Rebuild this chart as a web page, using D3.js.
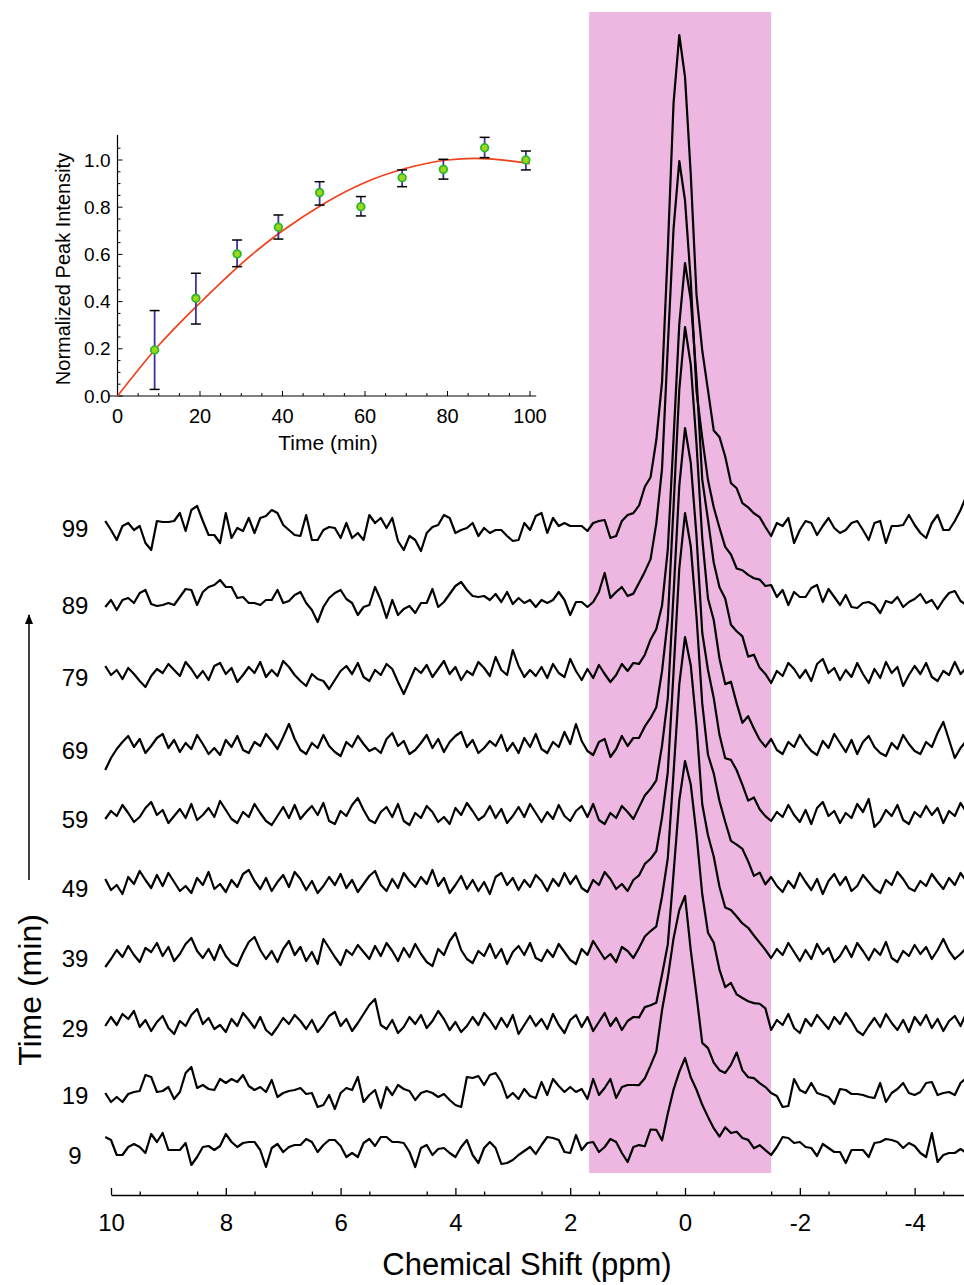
<!DOCTYPE html>
<html>
<head>
<meta charset="utf-8">
<script src="https://cdn.jsdelivr.net/npm/d3@7"></script>
<style>
  body { margin: 0; background: #fff; }
  svg { display: block; }
  text { font-family: "Liberation Sans", Arial, Helvetica, sans-serif; fill: #000; }
</style>
</head>
<body>
<svg id="chart"></svg>
<script>
// ---- spectra data ----
const times = [9, 19, 29, 39, 49, 59, 69, 79, 89, 99];
// vertical stacking offset of each spectrum, intensity units
const stackOffsets = [0, 60, 127, 197, 267, 336, 405, 478, 550, 627];
// height of the main peak above its own baseline
const peakHeights = [92, 194, 262, 316, 370, 386, 418, 409, 439, 488];
// chemical shift of the peak top (ppm)
const peakShifts = [0, 0, 0, 0, 0, 0, 0, 0, 0.1, 0.1];
// normalised peak shape, one value per 0.1 ppm step away from the top
const profileLeft = [0.85, 0.57, 0.30, 0.17, 0.10, 0.06, 0.03, 0.01];
const profileRight = [0.91, 0.72, 0.48, 0.36, 0.28, 0.20, 0.16, 0.13, 0.09, 0.065, 0.045, 0.03, 0.02, 0.01];
// sampling grid of the spectra
const shiftStart = 10.1, shiftStep = 0.1;

// baseline noise, one value per grid point (10.1 ppm ... -4.9 ppm)
const noise9 = [13,10,-5,-5,3,6,3,-3,16,8, 17,0,0,0,7,-15,-7,3,4,0, 4,16,8,3,7,8,8,0,-17,2, 6,-2,3,5,5,11,8,-2,5,10, 10,4,-7,-3,-7,7,11,4,13,13, 8,8,7,-2,-17,2,5,-5,1,2, -3,-7,3,10,-5,-13,2,8,2,-14, -13,-10,-5,-1,3,-4,
  5,13,12,10,-2,-3,15,0,7,8,-2,3,11,8,-3,-12,3,
  4,1,15,11,-6,9,8,0,0,-11,-6,1,0,-4,-5,8,5,10,6,6,-1,3,-1,
  -5,3,13,12,7,8,3,2,-6,6,2,-2,-2,-13,0,0,0,-7,7,8,11,10,8,2,7,4,-3,-7,17,-12,-5,-3,-3,1,-3];
const noise19 = [-3,-12,-7,-12,-4,-2,-1,15,13,-2, -1,3,-9,-2,17,23,2,5,1,0, 11,7,11,8,15,4,0,3,-2,10, -7,-3,-1,0,2,-4,-3,-17,-15,-5, -19,-3,2,0,13,-12,-5,0,-18,3, -5,5,1,-1,-10,-3,-1,-3,-7,-4, -10,-15,-17,13,12,14,5,15,17,8, -8,-3,-9,1,-6,-8,
  8,-5,11,4,-2,3,-2,1,-9,11,-5,2,11,-8,3,5,5,
  3,6,13,19,47,54,41,15,0,-37,-45,-46,-28,-27,-19,-14,0,20,7,4,6,3,1,
  -3,-6,-17,-16,11,0,-3,7,-3,-5,-7,-14,1,0,-4,-4,-5,-7,-8,7,-12,-3,1,7,-3,-5,-2,7,8,-5,-3,-2,-5,7,12];
const noise29 = [-3,6,-2,9,4,12,-4,3,-8,1, 7,-5,-11,2,-3,8,14,-1,5,-6, -2,-9,4,-3,10,3,-5,6,-7,-12, -4,5,-1,8,2,-6,3,-9,-2,7, 11,-3,4,-8,0,9,18,24,-2,-6, 3,-10,-4,6,-1,8,-5,2,12,4, -7,1,-9,-3,6,-2,10,3,-6,5, -4,8,-11,-2,7,-3,
  4,-6,9,-2,-10,3,8,-4,6,-8,1,10,-3,5,-7,2,6,
  3,8,2,-6,4,0,0,0,0,0,0,3,-4,7,1,-6,6,5,8,10,12,14,12,
  -7,3,-2,9,-5,-10,4,-3,8,1,-6,6,-1,10,2,-8,-12,-3,5,-4, 9,0,-7,3,-9,6,-2,8,-5,4, -8,2,7,-3,10];
const noise39 = [-14,-6,3,-4,7,-2,-9,5,1,10, -3,6,-8,-1,9,15,2,-5,4,-7, 8,-3,-10,-13,0,11,16,3,-6,2, -9,4,12,-2,6,-8,1,-11,14,5, -4,-12,3,-2,8,1,-6,7,-3,10, 2,-8,5,-4,9,-1,-9,-13,4,-2, 12,20,3,-6,-10,2,-3,9,-5,4, -11,1,7,-2,10,-5,
  -8,3,-4,9,1,-7,-11,4,-2,12,3,-6,-1,-9,6,2,-5,
  2,7,3,-5,3,0,0,0,0,0,0,-3,4,8,3,-5,2,8,9,11,8,4,0,
  -5,4,-2,10,1,-8,3,-6,9,-1,5,-9,-3,7,-4,10,2,-7,4,-2, 11,-5,-9,2,-3,8,-1,6,-6,3, 14,2,-6,-1,5];
const noise49 = [4,-7,-2,-11,6,-1,12,3,-5,8, -3,10,1,-8,-3,-10,5,-2,11,-6, -1,-9,3,-4,9,13,2,-6,5,-8, 1,8,-4,11,4,-7,2,-10,-3,6, -2,9,-5,3,-9,-1,7,12,-2,-8, 4,-5,10,2,-4,6,-1,13,-3,5, -10,-2,7,-6,3,-8,1,-11,6,10, -2,5,-7,3,-4,8,
  2,-8,4,-3,10,-1,7,-5,-9,3,-2,11,4,-6,-1,-8,3,
  4,8,2,-5,3,0,0,0,0,0,0,2,-5,6,8,2,-6,5,10,5,-4,3,-5,
  6,-3,-9,2,-5,10,1,-7,4,-11,2,9,-2,6,-8,-3,8,1,-6,-10, 3,-2,11,4,-5,-8,2,-3,9,1, -6,5,-2,10,2];
const noise59 = [-5,3,-2,9,1,-8,-3,6,12,-1, 4,-9,-2,5,-4,10,-6,-1,6,-3, 13,4,-5,-9,2,-3,10,1,-7,-11, -2,7,-4,9,-5,2,8,-1,11,-7, -10,3,-2,9,16,4,-6,-9,2,7, -3,10,-7,-11,1,-4,8,2,-8,-3, -10,6,-1,11,3,-6,-2,8,-4,5, -9,-2,7,-3,10,1,
  -8,2,-5,9,-2,-7,3,8,-3,10,-6,-10,1,-4,8,2,-5,
  3,7,2,-5,3,0,0,0,0,0,0,-4,5,8,2,-6,4,9,4,-4,5,-3,-6,
  -7,2,-3,9,-1,-8,4,-10,6,12,-2,3,-9,1,-4,10,2,15,-13,-7, 4,-2,9,-6,-10,2,-3,8,-1,6, -9,3,-2,11,2];
const noise69 = [-25,-13,-4,3,9,-2,6,-8,-1,7, 11,-3,5,-7,2,-4,10,1,-9,-3, -10,5,-2,9,-5,-8,3,-1,11,4, -4,8,21,6,-5,-9,2,-3,10,-1, -7,-11,3,-2,9,1,-6,-3,-8,6, 12,-1,4,-9,-5,2,10,-3,6,-7, 3,9,13,-2,5,-8,-3,4,-1,10, -6,2,-8,7,-2,11,
  -4,-8,3,-2,13,1,21,4,-6,-10,3,6,-12,-4,9,-1,7,
  3,6,2,-4,3,0,0,0,0,0,0,6,-4,8,3,-6,9,4,-5,10,4,-3,-6,
  6,-5,-9,3,-2,10,1,-6,-10,4,-3,11,2,-7,5,-9,3,9,-2,-8, -11,2,-4,10,1,-6,-9,3,-2,12, 23,5,-13,-3,4];
const noise79 = [6,-3,2,-7,4,-2,-9,-15,-4,3, -1,8,2,-4,10,3,-6,1,-8,6, 9,-2,4,-10,-3,5,-1,10,-5,2, -4,11,5,-3,-9,-14,-2,-7,-9,-17, -8,1,6,-2,9,-5,-9,2,-3,8, 3,-10,-22,-9,4,-1,7,-5,3,11, -2,5,-8,1,-3,10,4,-4,15,2, -3,22,6,-5,2,-4,
  5,-6,8,-1,-5,13,1,-8,3,-6,7,-2,-10,-3,8,1,9,
  4,5,8,2,-3,0,0,0,0,0,0,-4,5,-5,3,8,-6,4,9,-3,5,-4,-6,
  -11,1,-4,9,3,-6,2,-9,8,13,-1,4,-8,2,-5,9,-2,-11,3,-6, 10,-1,5,-14,-3,6,-2,9,-5,-9, 1,-3,10,-2,4];
const noise89 = [-7,0,-10,0,2,-3,7,10,-4,-6, -5,-3,-5,3,11,10,-5,8,13,15, 20,13,13,2,3,-3,-3,-5,0,0, 10,-3,-1,5,8,-3,-10,-22,-7,2, 7,10,1,-3,-15,-7,-5,13,0,-18, 0,-15,-9,-6,-13,-3,-3,11,-7,-2, 6,14,18,10,4,3,4,0,6,-2, 8,-4,2,-3,0,-7,
  0,-3,0,8,0,-15,-2,-2,-7,-2,8,27,2,8,13,4,2,
  4,2,-3,2,0,3,-2,0,0,3,-2,4,-3,5,2,-4,6,3,10,12,13,16,14,
  15,3,10,-5,8,3,3,12,15,-2,11,3,-5,5,-7,-8,-3,-2,-5,-13,-1,-3,3,-7,-2,1,6,-3,0,-9,0,7,9,-1,-5];
const noise99 = [2,-7,-17,-3,0,-7,-3,-20,-27,2, 1,1,2,10,-8,13,17,2,-12,-12, -20,10,-15,-5,-8,5,-10,5,7,13, 10,-2,-7,-12,-13,8,-17,-17,-7,-4, -5,-15,0,-15,-10,-17,8,0,5,-5, 5,-18,-27,-13,-17,-28,-10,-4,-2,8, 5,-10,-7,-5,0,-13,-5,-10,-7,-7, -13,-18,-17,0,-7,7,
  10,-10,5,-3,0,-3,-3,-3,-8,0,2,3,-15,-13,2,8,5,
  3,7,-3,0,-5,-5,5,0,2,-3,-6,-3,-4,-5,8,3,-4,3,-2,1,0,1,-4,
  -13,0,-3,5,-20,-7,2,0,-12,-3,5,-5,-10,-7,0,2,-7,-17,0,2,-20,-3,-3,-2,8,-2,-10,-15,0,8,-7,-7,2,13,27];
const traceNoise = [noise9, noise19, noise29, noise39, noise49, noise59, noise69, noise79, noise89, noise99];

// highlighted window (ppm)
const bandShifts = [1.67, -1.5];
const shiftTicks = [10, 8, 6, 4, 2, 0, -2, -4];

// ---- inset data ----
const insetTimes = [9, 19, 29, 39, 49, 59, 69, 79, 89, 99];
const insetValues = [0.195, 0.414, 0.602, 0.715, 0.862, 0.802, 0.925, 0.960, 1.052, 1.000];
const insetLow = [0.028, 0.305, 0.548, 0.665, 0.809, 0.763, 0.887, 0.919, 1.010, 0.958];
const insetHigh = [0.362, 0.520, 0.661, 0.767, 0.908, 0.845, 0.958, 1.003, 1.096, 1.038];
const fitTimes = [0, 10, 20, 30, 40, 50, 60, 70, 80, 90, 100];
const fitValues = [0, 0.215, 0.395, 0.56, 0.70, 0.815, 0.905, 0.965, 1.0, 1.005, 0.985];
const insetXTicks = [0, 20, 40, 60, 80, 100];
const insetYTicks = [0.0, 0.2, 0.4, 0.6, 0.8, 1.0];

// ---- build the spectra ----
const traces = times.map((t, i) => {
  const peakIndex = Math.round((shiftStart - peakShifts[i]) / shiftStep);
  return traceNoise[i].map((n, k) => {
    const j = k - peakIndex;
    let p = 0;
    if (j === 0) p = 1;
    else if (j < 0 && -j <= profileLeft.length) p = profileLeft[-j - 1];
    else if (j > 0 && j <= profileRight.length) p = profileRight[j - 1];
    return { shift: shiftStart - k * shiftStep, value: stackOffsets[i] + n + peakHeights[i] * p };
  });
});

const width = 964, height = 1285;
const svg = d3.select("#chart").attr("width", width).attr("height", height);

const x = d3.scaleLinear().domain([10, -4.86]).range([111, 964]);
const y = d3.scaleLinear().domain([0, 700]).range([1150, 450]);

// pink window
svg.append("rect")
  .attr("x", x(bandShifts[0]))
  .attr("y", 12)
  .attr("width", x(bandShifts[1]) - x(bandShifts[0]))
  .attr("height", 1161)
  .attr("fill", "#EDB7E1");

// spectra
const line = d3.line().x(d => x(d.shift)).y(d => y(d.value));
svg.append("g")
  .selectAll("path")
  .data(traces)
  .join("path")
  .attr("d", line)
  .attr("fill", "none")
  .attr("stroke", "#000")
  .attr("stroke-width", 2.2)
  .attr("stroke-linejoin", "round");

// time labels
svg.append("g")
  .selectAll("text")
  .data(times)
  .join("text")
  .attr("x", 75)
  .attr("y", (d, i) => y(stackOffsets[i]) + 5)
  .attr("text-anchor", "middle")
  .attr("dominant-baseline", "central")
  .style("font-size", "24px")
  .text(d => d);

// chemical shift axis
const axisY = 1195;
const xAxis = d3.axisBottom(x)
  .tickValues(shiftTicks)
  .tickFormat(d => String(d))
  .tickSizeInner(-7)
  .tickSizeOuter(0)
  .tickPadding(19);
const gx = svg.append("g").attr("transform", `translate(0,${axisY})`).call(xAxis);
gx.select(".domain").attr("stroke-width", 1.5);
gx.selectAll(".tick line").attr("stroke-width", 1.3);
gx.selectAll("text").style("font-size", "24px").attr("font-family", null);

const minorX = d3.axisBottom(x)
  .tickValues(d3.range(9.5, -4.6, -1))
  .tickSizeInner(-3.5)
  .tickSizeOuter(0)
  .tickFormat("");
const gmx = svg.append("g").attr("transform", `translate(0,${axisY})`).call(minorX);
gmx.select(".domain").remove();
gmx.selectAll(".tick line").attr("stroke-width", 1.3);

svg.append("text")
  .attr("x", 527)
  .attr("y", 1275)
  .attr("text-anchor", "middle")
  .style("font-size", "31px")
  .text("Chemical Shift (ppm)");

// time arrow
svg.append("defs").append("marker")
  .attr("id", "arrow")
  .attr("viewBox", "0 0 10 10")
  .attr("refX", 9).attr("refY", 5)
  .attr("markerWidth", 10).attr("markerHeight", 10)
  .attr("markerUnits", "userSpaceOnUse")
  .attr("orient", "auto")
  .append("path")
  .attr("d", "M0,1 L10,5 L0,9 Z")
  .attr("fill", "#000");
svg.append("line")
  .attr("x1", 29).attr("x2", 29)
  .attr("y1", 880).attr("y2", 615)
  .attr("stroke", "#000")
  .attr("stroke-width", 1.5)
  .attr("marker-end", "url(#arrow)");
svg.append("text")
  .attr("transform", "translate(30,990) rotate(-90)")
  .attr("text-anchor", "middle")
  .attr("dominant-baseline", "central")
  .style("font-size", "32px")
  .text("Time (min)");

// ---- inset ----
const ix = d3.scaleLinear().domain([0, 100]).range([117.5, 530]);
const iy = d3.scaleLinear().domain([0, 1]).range([396, 160]);
const inset = svg.append("g");

inset.append("line")
  .attr("x1", ix(-2.3)).attr("x2", ix(101.5))
  .attr("y1", iy(0)).attr("y2", iy(0))
  .attr("stroke", "#000").attr("stroke-width", 1.2);
inset.append("line")
  .attr("x1", ix(0)).attr("x2", ix(0))
  .attr("y1", iy(0)).attr("y2", iy(1.106))
  .attr("stroke", "#000").attr("stroke-width", 1.2);

// x ticks
inset.append("g").selectAll("line")
  .data(d3.range(0, 101, 5))
  .join("line")
  .attr("x1", d => ix(d)).attr("x2", d => ix(d))
  .attr("y1", iy(0)).attr("y2", d => iy(0) - (d % 20 === 0 ? 5 : 3))
  .attr("stroke", "#000").attr("stroke-width", 1);
inset.append("g").selectAll("text")
  .data(insetXTicks)
  .join("text")
  .attr("x", d => ix(d))
  .attr("y", iy(0) + 27)
  .attr("text-anchor", "middle")
  .style("font-size", "20px")
  .text(d => d);

// y ticks
inset.append("g").selectAll("line")
  .data(d3.range(0, 22).map(d => d * 0.05))
  .join("line")
  .attr("x1", ix(0)).attr("x2", (d, i) => ix(0) + (i % 4 === 0 ? 5 : 3))
  .attr("y1", d => iy(d)).attr("y2", d => iy(d))
  .attr("stroke", "#000").attr("stroke-width", 1);
inset.append("g").selectAll("text")
  .data(insetYTicks)
  .join("text")
  .attr("x", ix(0) - 7)
  .attr("y", d => iy(d))
  .attr("text-anchor", "end")
  .attr("dominant-baseline", "central")
  .style("font-size", "19px")
  .text(d => d3.format(".1f")(d));

inset.append("text")
  .attr("x", 328)
  .attr("y", 450)
  .attr("text-anchor", "middle")
  .style("font-size", "21px")
  .text("Time (min)");
inset.append("text")
  .attr("transform", "translate(63,269) rotate(-90)")
  .attr("text-anchor", "middle")
  .attr("dominant-baseline", "central")
  .style("font-size", "20px")
  .text("Normalized Peak Intensity");

// fit curve
inset.append("path")
  .datum(fitTimes.map((t, i) => [t, fitValues[i]]))
  .attr("d", d3.line().x(d => ix(d[0])).y(d => iy(d[1])).curve(d3.curveNatural))
  .attr("fill", "none")
  .attr("stroke", "#F0401A")
  .attr("stroke-width", 1.7);

// error bars
const bars = inset.append("g").selectAll("g")
  .data(insetTimes.map((t, i) => ({ t, v: insetValues[i], lo: insetLow[i], hi: insetHigh[i] })))
  .join("g");
bars.append("line")
  .attr("x1", d => ix(d.t)).attr("x2", d => ix(d.t))
  .attr("y1", d => iy(d.lo)).attr("y2", d => iy(d.hi))
  .attr("stroke", "#3A3399").attr("stroke-width", 1.8);
bars.append("line")
  .attr("x1", d => ix(d.t) - 5).attr("x2", d => ix(d.t) + 5)
  .attr("y1", d => iy(d.hi)).attr("y2", d => iy(d.hi))
  .attr("stroke", "#000").attr("stroke-width", 1.5);
bars.append("line")
  .attr("x1", d => ix(d.t) - 5).attr("x2", d => ix(d.t) + 5)
  .attr("y1", d => iy(d.lo)).attr("y2", d => iy(d.lo))
  .attr("stroke", "#000").attr("stroke-width", 1.5);
bars.append("circle")
  .attr("cx", d => ix(d.t)).attr("cy", d => iy(d.v))
  .attr("r", 3.8)
  .attr("fill", "#9BD81B")
  .attr("stroke", "#2FB52F")
  .attr("stroke-width", 1.8);
</script>
</body>
</html>
